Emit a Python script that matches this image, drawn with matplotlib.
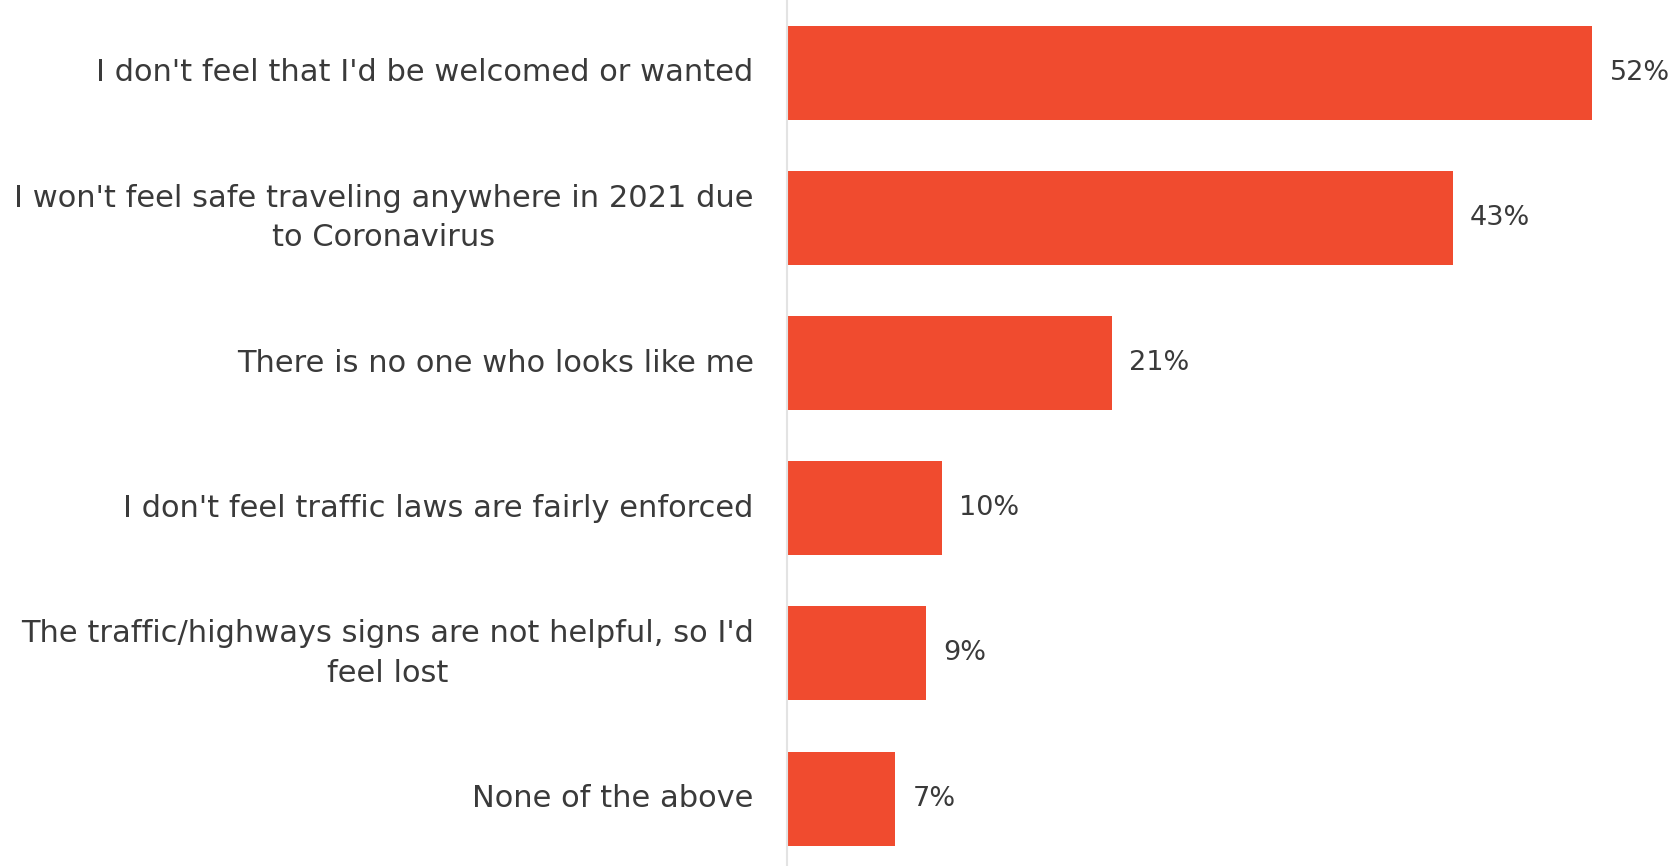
import matplotlib
matplotlib.use("Agg")
import matplotlib.pyplot as plt

REASONS = [
    "I don't feel that I'd be welcomed or wanted",
    "I won't feel safe traveling anywhere in 2021 due\nto Coronavirus",
    "There is no one who looks like me",
    "I don't feel traffic laws are fairly enforced",
    "The traffic/highways signs are not helpful, so I'd\nfeel lost",
    "None of the above",
]
SHARES = [52, 43, 21, 10, 9, 7]

BAR_COLOR = "#F04B2F"
TEXT_COLOR = "#3a3a3a"

plt.rcParams["font.family"] = ["DejaVu Sans"]

fig = plt.figure(figsize=(16.73, 8.66), dpi=100)
ax = fig.add_axes([0.4704, 0.0, 0.5296, 1.0])

ypos = list(range(len(REASONS)))
ax.barh(ypos, SHARES, height=0.648, color=BAR_COLOR)

for y, v in zip(ypos, SHARES):
    ax.text(v + 1.1, y, f"{v}%", va="center", ha="left",
            fontsize=19.5, color=TEXT_COLOR)

ax.set_yticks(ypos)
ax.set_yticklabels(REASONS, fontsize=22, color=TEXT_COLOR,
                   multialignment="center", linespacing=1.45,
                   va="center")
ax.tick_params(axis="y", length=0, pad=24)
ax.set_xticks([])

ax.set_xlim(0, 57.2)
ax.set_ylim(5.465, -0.503)

for side in ["top", "right", "bottom"]:
    ax.spines[side].set_visible(False)
ax.spines["left"].set_color("#e3e3e3")
ax.spines["left"].set_linewidth(1.5)

fig.savefig("out.png", dpi=100)
